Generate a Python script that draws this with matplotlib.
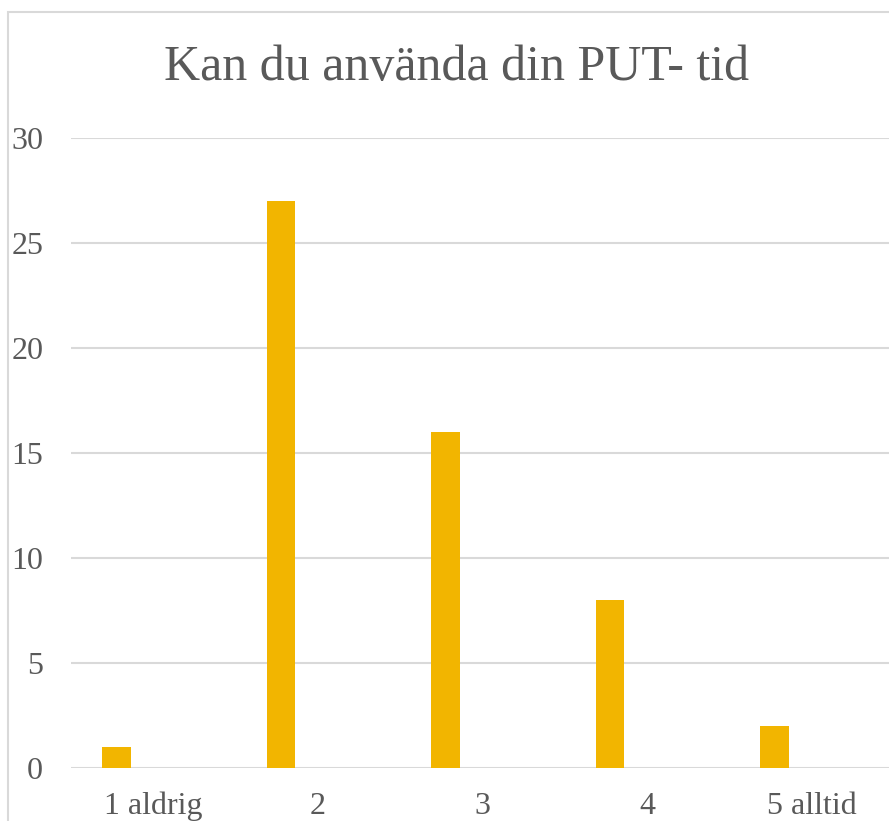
import matplotlib
matplotlib.use('Agg')
from matplotlib import pyplot as plt
from matplotlib.patches import Rectangle
import numpy as np

categories = ['1 aldrig', '2', '3', '4', '5 alltid']
values = [1, 27, 16, 8, 2]
yticks = [0, 5, 10, 15, 20, 25, 30]
title = 'Kan du använda din PUT- tid'

W, H = 889, 821
grey = '#595959'
bar_color = '#F2B500'
grid_color = '#D9D9D9'

plt.rcParams['font.family'] = ['Liberation Serif', 'DejaVu Serif']

fig = plt.figure(figsize=(W / 100, H / 100), dpi=100)

# plot area in pixels (right edge runs past the image, as in the original crop)
left, right, bottom, top = 71, 894, 768, 138
ax = fig.add_axes([left / W, (H - bottom) / H, (right - left) / W, (bottom - top) / H])

x = np.arange(len(categories))
ax.bar(x - 0.225, values, width=0.173, color=bar_color, zorder=3)

ax.set_xlim(-0.5, len(categories) - 0.5)
ax.set_ylim(0, 30)
ax.set_yticks(yticks)
ax.set_xticks(x)
ax.set_xticklabels(categories)

ax.grid(axis='y', color=grid_color, linewidth=1.5, zorder=0)
for s in ax.spines.values():
    s.set_visible(False)
ax.tick_params(axis='both', length=0, labelsize=23, labelcolor=grey)
ax.tick_params(axis='y', pad=20)
ax.tick_params(axis='x', pad=17)

fig.text(457 / W, 1 - 80 / H, title, ha='center', va='baseline',
         fontsize=36, color=grey, family='Liberation Serif')

# outer chart border (bottom and right edges fall outside the crop)
fig.patches.append(Rectangle((7.5 / W, -0.05), 1, 1.05 - 12.5 / H, transform=fig.transFigure,
                             fill=False, edgecolor=grid_color, linewidth=1.5))

fig.savefig('out.png', dpi=100)
